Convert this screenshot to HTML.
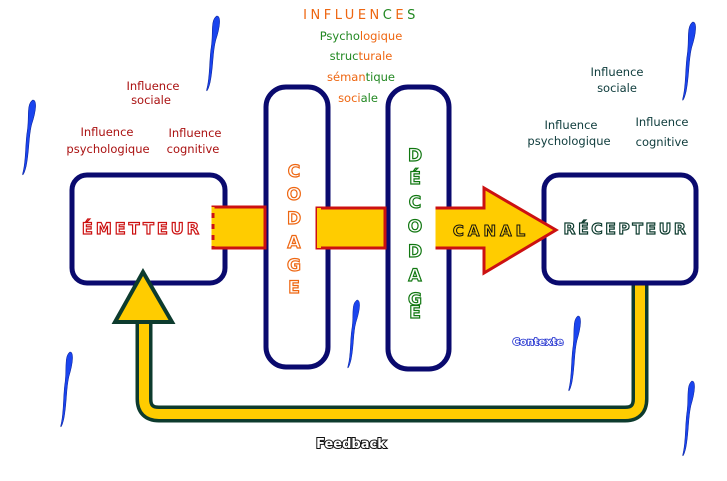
<!DOCTYPE html>
<html><head><meta charset="utf-8"><style>
html,body{margin:0;padding:0;background:#fff;width:727px;height:481px;overflow:hidden}
svg{display:block}
text{font-family:"DejaVu Sans","Liberation Sans",sans-serif}
</style></head><body>
<svg width="727" height="481" viewBox="0 0 727 481" xmlns="http://www.w3.org/2000/svg">
<defs>
<path id="sq" d="M8,0 C12,0 11,10 7,22 C4,33 5,45 2,60 C0,68 -2,70 -1,66 C2,55 1,40 3,28 C5,15 2,4 8,0 Z" fill="#1a44ee" stroke="#0a2299" stroke-width="0.5"/>
</defs>
<use href="#sq" transform="translate(208,16) scale(1.1,1.1)"/>
<use href="#sq" transform="translate(24,100) scale(1.1,1.1)"/>
<use href="#sq" transform="translate(684,22) scale(1.1,1.15)"/>
<use href="#sq" transform="translate(349,300) scale(1.0,1.0)"/>
<use href="#sq" transform="translate(570,316) scale(1.0,1.1)"/>
<use href="#sq" transform="translate(62,352) scale(1.0,1.1)"/>
<use href="#sq" transform="translate(684,381) scale(1.0,1.1)"/>

<path d="M640,266 V399 Q640,414 625,414 H159 Q144,414 144,399 V318" fill="none" stroke="#0d3b2e" stroke-width="17"/>
<path d="M640,270 V399 Q640,414 625,414 H159 Q144,414 144,399 V318" fill="none" stroke="#ffcc00" stroke-width="10"/>
<rect x="632" y="266" width="16" height="6" fill="#ffcc00" stroke="#0d3b2e" stroke-width="3"/>

<rect x="72" y="175" width="153" height="108" rx="15" fill="#fff" stroke="#0a0a6e" stroke-width="5"/>
<rect x="544" y="175" width="152" height="108" rx="15" fill="#fff" stroke="#0a0a6e" stroke-width="5"/>
<rect x="266" y="87" width="62" height="280" rx="20" fill="#fff" stroke="#0a0a6e" stroke-width="5"/>
<rect x="388" y="87" width="61" height="282" rx="20" fill="#fff" stroke="#0a0a6e" stroke-width="5"/>

<polygon points="143,272 115,322 172,322" fill="#ffcc00" stroke="#0d3b2e" stroke-width="4"/>

<rect x="213" y="207" width="52" height="41" fill="#ffcc00" stroke="#cc1111" stroke-width="3"/>
<line x1="213" y1="207" x2="213" y2="248" stroke="#ffcc00" stroke-width="3" stroke-dasharray="6,5"/>
<rect x="317" y="208" width="68" height="40" fill="#ffcc00" stroke="#cc1111" stroke-width="3"/>
<line x1="319" y1="208" x2="319" y2="248" stroke="#ffcc00" stroke-width="4"/>
<polygon points="437,208 484,208 484,188 556,230 484,273 484,248 437,248" fill="#ffcc00" stroke="#cc1111" stroke-width="3"/>
<line x1="437" y1="209.5" x2="437" y2="246.5" stroke="#ffcc00" stroke-width="3"/>

<text x="142" y="234" text-anchor="middle" font-size="16" font-weight="bold" fill="#fff" stroke="#cc1111" stroke-width="1.2" letter-spacing="3">ÉMETTEUR</text>
<text x="626" y="234" text-anchor="middle" font-size="15.5" font-weight="bold" fill="#fff" stroke="#0d3b2e" stroke-width="1.2" letter-spacing="2.6">RÉCEPTEUR</text>
<text x="491" y="236" text-anchor="middle" font-size="15" font-weight="bold" fill="#ffcc00" stroke="#111" stroke-width="1" letter-spacing="4">CANAL</text>
<g font-size="17" font-weight="bold" fill="#fff" stroke="#ee6611" stroke-width="1.2" text-anchor="middle">
<text x="294" y="177">C</text><text x="294" y="200">O</text><text x="294" y="224">D</text><text x="294" y="248">A</text><text x="294" y="271">G</text><text x="294" y="293">E</text></g>
<g font-size="17" font-weight="bold" fill="#fff" stroke="#117711" stroke-width="1.2" text-anchor="middle">
<text x="415" y="161">D</text><text x="415" y="184">É</text><text x="415" y="208">C</text><text x="415" y="232">O</text><text x="415" y="257">D</text><text x="415" y="281">A</text><text x="415" y="305">G</text><text x="415" y="318">E</text></g>

<text x="361" y="19" text-anchor="middle" font-size="13" letter-spacing="3.5"><tspan fill="#ee6611">INFLUEN</tspan><tspan fill="#228822">C</tspan><tspan fill="#ee6611">E</tspan><tspan fill="#228822">S</tspan></text>
<g font-size="11.5" text-anchor="middle">
<text x="361" y="40"><tspan fill="#228822">Psycho</tspan><tspan fill="#ee6611">logique</tspan></text>
<text x="361" y="60"><tspan fill="#228822">struc</tspan><tspan fill="#ee6611">turale</tspan></text>
<text x="361" y="81"><tspan fill="#ee6611">séman</tspan><tspan fill="#228822">tique</tspan></text>
<text x="358" y="102"><tspan fill="#ee6611">soci</tspan><tspan fill="#228822">ale</tspan></text>
</g>
<g font-size="11.5" text-anchor="middle" fill="#aa1111">
<text x="153" y="90">Influence</text><text x="151" y="104">sociale</text>
<text x="107" y="136">Influence</text><text x="108" y="153">psychologique</text>
<text x="195" y="137">Influence</text><text x="193" y="153">cognitive</text>
</g>
<g font-size="11.5" text-anchor="middle" fill="#0d3b3b">
<text x="617" y="76">Influence</text><text x="617" y="92">sociale</text>
<text x="571" y="129">Influence</text><text x="569" y="145">psychologique</text>
<text x="662" y="126">Influence</text><text x="662" y="146">cognitive</text>
</g>
<text x="538" y="345" text-anchor="middle" font-size="10" font-weight="bold" fill="#fff" stroke="#1122cc" stroke-width="1.5" paint-order="stroke">Contexte</text>
<text x="351" y="448" text-anchor="middle" font-size="13" font-weight="bold" fill="#fff" stroke="#111" stroke-width="2" paint-order="stroke">Feedback</text>
</svg>
</body></html>
